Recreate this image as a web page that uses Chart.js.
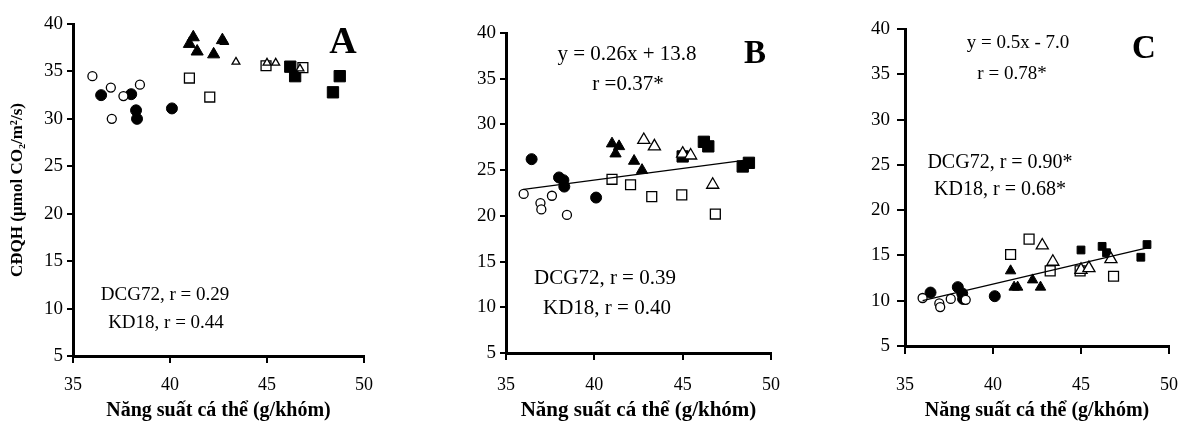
<!DOCTYPE html>
<html>
<head>
<meta charset="utf-8">
<script src="https://cdn.jsdelivr.net/npm/chart.js@4.4.1/dist/chart.umd.min.js"></script>
<style>
    html, body { margin: 0; padding: 0; background: #fff; }
    body { width: 1179px; height: 423px; position: relative; overflow: hidden; }
    .panel { position: absolute; top: 0; height: 423px; }
</style>
</head>
<body>
<div class="panel" style="left:0;width:380px"><canvas id="chartA" width="380" height="423"></canvas></div>
<div class="panel" style="left:390px;width:390px"><canvas id="chartB" width="390" height="423"></canvas></div>
<div class="panel" style="left:790px;width:389px"><canvas id="chartC" width="389" height="423"></canvas></div>
<script>
// năng suất cá thể (g/khóm) - same plants in all three panels
const xOpenCircle = [36.0, 36.95, 37.0, 37.6, 38.45];
const xFilledCircle = [36.45, 38.0, 38.25, 38.3, 40.1];
const xFilledTriangle = [41.0, 41.2, 41.4, 42.25, 42.7];
const xOpenTriangle = [42.8, 43.4, 45.0, 45.45, 46.7];
const xOpenSquare = [41.0, 42.05, 43.25, 44.95, 46.85];
const xFilledSquare = [45.0, 46.2, 46.45, 48.4, 48.75];

// panel A
const aOpenCircle = [34.5, 33.3, 30.0, 32.4, 33.6];
const aFilledCircle = [32.5, 32.6, 30.9, 30.0, 31.1];
const aFilledTriangle = [37.9, 38.6, 37.1, 36.8, 38.3];
const aOpenTriangle = [38.1, 36.0, 35.9, 35.9, 35.3];
const aOpenSquare = [34.3, 32.3, null, 35.6, 35.4];
const aFilledSquare = [null, 35.5, 34.5, 32.8, 34.5];

// panel B
const bOpenCircle = [22.4, 21.4, 20.7, 22.2, 20.1];
const bFilledCircle = [26.2, 24.2, 23.9, 23.2, 22.0];
const bFilledTriangle = [27.9, 26.8, 27.6, 26.0, 25.0];
const bOpenTriangle = [28.3, 27.6, 26.8, 26.6, 23.4];
const bOpenSquare = [24.0, 23.4, 22.1, 22.3, 20.2];
const bFilledSquare = [26.5, 28.1, 27.6, 25.4, 25.8];
const bTrendX = [36.0, 49.0];
const bTrendY = [22.9, 26.2];

// panel C
const cOpenCircle = [10.3, 9.7, 9.3, 10.2, 10.1];
const cFilledCircle = [10.9, 11.5, 10.8, 10.2, 10.5];
const cFilledTriangle = [13.3, 11.5, 11.5, 12.3, 11.5];
const cOpenTriangle = [16.1, 14.3, 13.4, 13.6, 14.6];
const cOpenSquare = [15.1, 16.8, 13.3, 13.3, 12.7];
const cFilledSquare = [15.6, 16.0, 15.3, 14.8, 16.2];
const cTrendX = [36.0, 48.7];
const cTrendY = [10.0, 15.8];

const xTicks = [35, 40, 45, 50];
const yTicks = [5, 10, 15, 20, 25, 30, 35, 40];

const SERIF = "'Liberation Serif', 'Times New Roman', serif";

function pts(xs, ys) {
    return xs.map((x, i) => ({ x: x, y: ys[i] }));
}

function marker(xs, ys, style, filled, r) {
    return {
        type: 'scatter',
        data: pts(xs, ys),
        pointStyle: style,
        pointRadius: r,
        pointHoverRadius: r,
        pointBackgroundColor: filled ? '#000' : '#fff',
        pointBorderColor: '#000',
        pointBorderWidth: filled ? 1 : 1.3
    };
}

function trend(xs, ys) {
    return {
        type: 'line',
        data: pts(xs, ys),
        borderColor: '#000',
        borderWidth: 1.3,
        pointRadius: 0,
        fill: false
    };
}

// vẽ chữ chú thích
const notesPlugin = {
    id: 'notes',
    afterDraw(chart, args, opts) {
        const ctx = chart.ctx;
        ctx.save();
        ctx.fillStyle = '#000';
        ctx.textAlign = 'center';
        ctx.textBaseline = 'middle';
        (opts.items || []).forEach(it => {
            ctx.font = it.font;
            ctx.fillText(it.text, it.x, it.y);
        });
        ctx.restore();
    }
};

function makeChart(id, datasets, p) {
    const ctx = document.getElementById(id).getContext('2d');
    return new Chart(ctx, {
        type: 'scatter',
        data: { datasets: datasets },
        options: {
            responsive: false,
            animation: false,
            events: [],
            layout: { padding: { left: 0, top: p.top, right: p.right, bottom: 0 } },
            plugins: {
                legend: { display: false },
                tooltip: { enabled: false },
                notes: { items: p.notes }
            },
            scales: {
                x: {
                    type: 'linear',
                    min: 35,
                    max: 50,
                    afterBuildTicks: s => { s.ticks = xTicks.map(v => ({ value: v })); },
                    afterFit: s => {
                        s.height = p.xh;
                        s.paddingLeft = 0;
                        s.paddingRight = 0;
                    },
                    ticks: { color: '#000', font: { family: SERIF, size: 18 }, padding: p.xpad },
                    grid: { drawOnChartArea: false, drawTicks: true, tickLength: p.xtl, color: '#000', lineWidth: 2 },
                    border: { display: true, color: '#000', width: 3 },
                    title: {
                        display: true,
                        text: 'Năng suất cá thể (g/khóm)',
                        color: '#000',
                        font: { family: SERIF, size: p.xtitleSize, weight: 'bold', lineHeight: 1 },
                        padding: { top: 0, bottom: 2 }
                    }
                },
                y: {
                    type: 'linear',
                    min: 5,
                    max: 40,
                    afterBuildTicks: s => { s.ticks = yTicks.map(v => ({ value: v })); },
                    afterFit: s => {
                        s.width = p.yw;
                        s.paddingTop = 0;
                        s.paddingBottom = 0;
                    },
                    ticks: { color: '#000', font: { family: SERIF, size: 19 }, padding: p.ypad },
                    grid: { drawOnChartArea: false, drawTicks: true, tickLength: p.ytl, color: '#000', lineWidth: 2 },
                    border: { display: true, color: '#000', width: 3 },
                    title: {
                        display: !!p.ytitle,
                        text: p.ytitle || '',
                        color: '#000',
                        font: { family: SERIF, size: 17, weight: 'bold', lineHeight: 1 },
                        padding: { top: 9, bottom: 0 }
                    }
                }
            }
        },
        plugins: [notesPlugin]
    });
}

makeChart('chartA', [
    marker(xOpenCircle, aOpenCircle, 'circle', false, 4.5),
    marker(xFilledCircle, aFilledCircle, 'circle', true, 5.5),
    marker(xFilledTriangle, aFilledTriangle, 'triangle', true, 7),
    marker(xOpenTriangle, aOpenTriangle, 'triangle', false, 4.5),
    marker(xOpenSquare, aOpenSquare, 'rect', false, 7),
    marker(xFilledSquare, aFilledSquare, 'rect', true, 8)
], {
    top: 24, right: 16, yw: 73, xh: 67,
    xtl: 7, xpad: 11, ytl: 6, ypad: 4, xtitleSize: 20,
    ytitle: 'CĐQH (µmol CO₂/m²/s)',
    notes: [
        { text: 'A', x: 343, y: 43, font: 'bold 38px ' + SERIF },
        { text: 'DCG72, r = 0.29', x: 165, y: 295, font: '19px ' + SERIF },
        { text: 'KD18, r = 0.44', x: 166, y: 323, font: '19px ' + SERIF }
    ]
});

makeChart('chartB', [
    trend(bTrendX, bTrendY),
    marker(xOpenCircle, bOpenCircle, 'circle', false, 4.5),
    marker(xFilledCircle, bFilledCircle, 'circle', true, 5.5),
    marker(xFilledTriangle, bFilledTriangle, 'triangle', true, 6.5),
    marker(xOpenTriangle, bOpenTriangle, 'triangle', false, 7),
    marker(xOpenSquare, bOpenSquare, 'rect', false, 7),
    marker(xFilledSquare, bFilledSquare, 'rect', true, 8)
], {
    top: 33, right: 9, yw: 116, xh: 70,
    xtl: 7, xpad: 14, ytl: 6, ypad: 4, xtitleSize: 21,
    notes: [
        { text: 'B', x: 365, y: 54, font: 'bold 33px ' + SERIF },
        { text: 'y = 0.26x + 13.8', x: 237, y: 54, font: '21px ' + SERIF },
        { text: 'r =0.37*', x: 238, y: 84, font: '21px ' + SERIF },
        { text: 'DCG72, r = 0.39', x: 215, y: 278, font: '21px ' + SERIF },
        { text: 'KD18, r = 0.40', x: 217, y: 308, font: '21px ' + SERIF }
    ]
});

makeChart('chartC', [
    trend(cTrendX, cTrendY),
    marker(xOpenCircle, cOpenCircle, 'circle', false, 4.5),
    marker(xFilledCircle, cFilledCircle, 'circle', true, 5.5),
    marker(xFilledTriangle, cFilledTriangle, 'triangle', true, 6),
    marker(xOpenTriangle, cOpenTriangle, 'triangle', false, 7),
    marker(xOpenSquare, cOpenSquare, 'rect', false, 7),
    marker(xFilledSquare, cFilledSquare, 'rect', true, 5.5)
], {
    top: 29, right: 10, yw: 115, xh: 77,
    xtl: 8, xpad: 20, ytl: 8, ypad: 7, xtitleSize: 20,
    notes: [
        { text: 'C', x: 354, y: 49, font: 'bold 33px ' + SERIF },
        { text: 'y = 0.5x - 7.0', x: 228, y: 43, font: '19px ' + SERIF },
        { text: 'r = 0.78*', x: 222, y: 74, font: '19px ' + SERIF },
        { text: 'DCG72, r = 0.90*', x: 210, y: 163, font: '20px ' + SERIF },
        { text: 'KD18, r = 0.68*', x: 210, y: 190, font: '20px ' + SERIF }
    ]
});
</script>
</body>
</html>
